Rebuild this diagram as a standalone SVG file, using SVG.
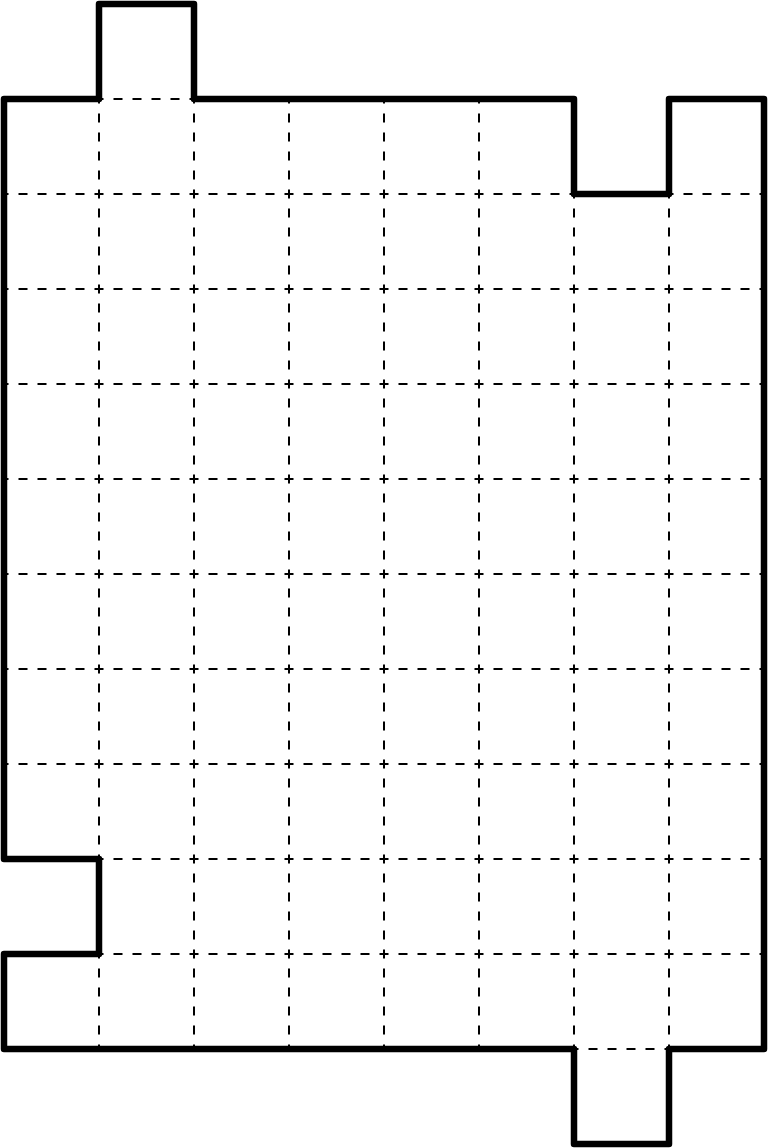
<svg xmlns="http://www.w3.org/2000/svg" width="768" height="1148" viewBox="0 0 768 1148">
<style>
.grid{stroke:#000;stroke-width:2;stroke-dasharray:9 10;stroke-dashoffset:4.5;fill:none}
.outline{stroke:#000;stroke-width:6.5;fill:none;stroke-linejoin:round}
</style>
<rect width="768" height="1148" fill="#fff"/>
<g id="grid">
<path class="grid" d="M99,99V1049M194,99V1049M289,99V1049M384,99V1049M479,99V1049M574,194V1049M669,194V1049"/>
<path class="grid" d="M4,194H764M4,289H764M4,384H764M4,479H764M4,574H764M4,669H764M4,764H764M4,859H764M4,954H764"/>
<path class="grid" d="M99,99H194M574,1049H669"/>
</g>
<g id="outline">
<path class="outline" d="M4,99H99V4H194V99H574V194H669V99H764V1049H669V1144H574V1049H4V954H99V859H4Z"/>
</g>
</svg>
